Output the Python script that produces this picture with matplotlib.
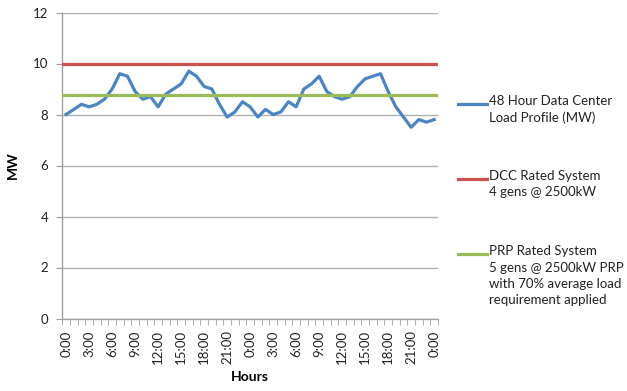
import numpy as np
import matplotlib
matplotlib.use("Agg")
import matplotlib.pyplot as plt
from matplotlib.lines import Line2D

plt.rcParams['font.family'] = ['Lato', 'DejaVu Sans']

# hourly load over 48 hours (MW)
hours = np.arange(49)
load_mw = [8.0, 8.2, 8.4, 8.3, 8.4, 8.6, 9.0, 9.6, 9.5, 8.9, 8.6, 8.7,
           8.3, 8.8, 9.0, 9.2, 9.7, 9.5, 9.1, 9.0, 8.4, 7.9, 8.1, 8.5,
           8.3, 7.9, 8.2, 8.0, 8.1, 8.5, 8.3, 9.0, 9.2, 9.5, 8.9, 8.7,
           8.6, 8.7, 9.1, 9.4, 9.5, 9.6, 8.9, 8.3, 7.9, 7.5, 7.8, 7.7, 7.8]
dcc_rated = 10.0
prp_rated = 8.75
tick_labels = ["0:00", "3:00", "6:00", "9:00", "12:00", "15:00", "18:00", "21:00"] * 2 + ["0:00"]

series_labels = ["48 Hour Data Center\nLoad Profile (MW)",
                 "DCC Rated System\n4 gens @ 2500kW",
                 "PRP Rated System\n5 gens @ 2500kW PRP\nwith 70% average load\nrequirement applied"]
colors = ["#4A86C5", "#C9514E", "#9BBB59"]

fig = plt.figure(figsize=(6.27, 3.91), dpi=100)
ax = fig.add_axes([62.3 / 627, 1 - 318.5 / 391, (438 - 62.3) / 627, (318.5 - 12.5) / 391])

ax.plot(hours, load_mw, color=colors[0], lw=2.3, zorder=3)
ax.plot([-0.5, 48.5], [dcc_rated] * 2, color=colors[1], lw=2.3, zorder=3)
ax.plot([-0.5, 48.5], [prp_rated] * 2, color=colors[2], lw=2.3, zorder=3)

ax.set_xlim(-0.5, 48.5)
ax.set_ylim(0, 12)
ax.set_yticks(np.arange(0, 13, 2))
ax.yaxis.grid(True, color="#B0B0B0", lw=1)
ax.set_axisbelow(True)

# labels at category centres, tick marks between categories
ax.set_xticks(np.arange(0, 49, 3))
ax.set_xticklabels(tick_labels, rotation=90, va="top", ha="center")
ax.set_xticks(np.arange(-0.5, 49, 1), minor=True)

for s in ["top", "right"]:
    ax.spines[s].set_visible(False)
for s in ["left", "bottom"]:
    ax.spines[s].set_color("#A0A0A0")
    ax.spines[s].set_linewidth(1)
ax.tick_params(axis="both", which="both", color="#A0A0A0", length=4, labelsize=9.5, labelcolor="#222222")
ax.tick_params(axis="x", which="major", length=0, pad=8.5)
ax.tick_params(axis="y", pad=6)

ax.set_ylabel("MW", fontsize=10, fontweight="bold", labelpad=10)
ax.set_xlabel("Hours", fontsize=10, fontweight="bold", labelpad=5)

# legend on the right, handle aligned to first text line
legend_y = [104, 179, 254]
for lab, c, yp in zip(series_labels, colors, legend_y):
    yf = 1 - yp / 391
    fig.add_artist(Line2D([458 / 627, 487 / 627], [yf, yf], color=c, lw=2.3))
    fig.text(489 / 627, 1 - (yp - 9) / 391, lab, fontsize=9.5, va="top", ha="left",
             color="#222222", linespacing=1.45)

fig.savefig("out.png", dpi=100)
